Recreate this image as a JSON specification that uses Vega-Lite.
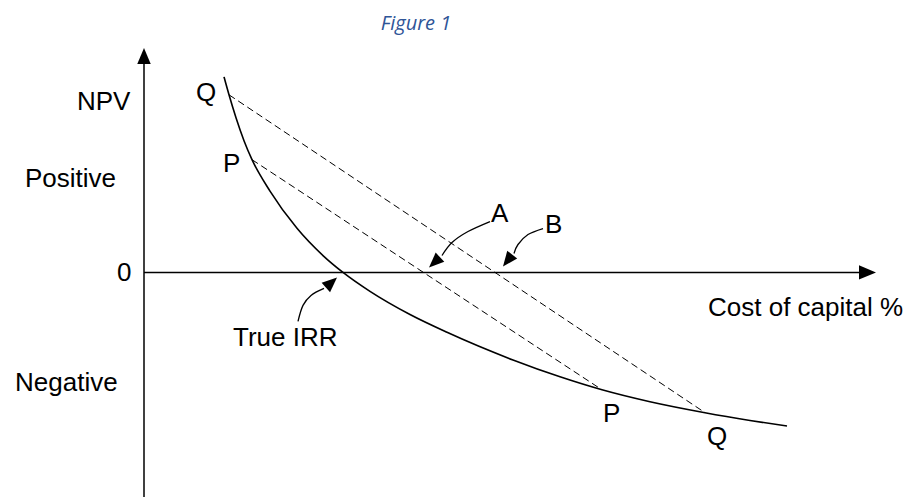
{
  "$schema": "https://vega.github.io/schema/vega-lite/v6.json",
  "width": 909,
  "height": 498,
  "autosize": {"type": "fit", "contains": "padding"},
  "padding": 0,
  "background": "white",
  "config": {"view": {"stroke": null}},
  "datasets": {
    "axes": [
      {"name": "npv_axis", "x": 0, "y": -225, "x2": 0, "y2": 212},
      {"name": "cost_axis", "x": 0, "y": 0, "x2": 717, "y2": 0}
    ],
    "dashed": [
      {"name": "Q", "x": 85, "y": 178, "x2": 561, "y2": -140.5},
      {"name": "P", "x": 108, "y": 113, "x2": 458, "y2": -117.6}
    ],
    "curve": [
      {"x": 80, "y": 196}, {"x": 85, "y": 178}, {"x": 92, "y": 155}, {"x": 100, "y": 132},
      {"x": 108, "y": 113}, {"x": 126, "y": 81.5}, {"x": 153, "y": 44.2}, {"x": 179, "y": 16.9},
      {"x": 199, "y": 0}, {"x": 226, "y": -19}, {"x": 266, "y": -42.2}, {"x": 303, "y": -60},
      {"x": 369, "y": -87.7}, {"x": 416, "y": -104.6}, {"x": 458, "y": -117.6}, {"x": 506, "y": -129.6},
      {"x": 561, "y": -140.6}, {"x": 606, "y": -148.3}, {"x": 643, "y": -153.9}
    ],
    "pointers": [
      {"id": "A", "x": 346, "y": 51}, {"id": "A", "x": 324, "y": 41}, {"id": "A", "x": 308, "y": 30}, {"id": "A", "x": 298, "y": 17},
      {"id": "B", "x": 399, "y": 44}, {"id": "B", "x": 384, "y": 38}, {"id": "B", "x": 374, "y": 28}, {"id": "B", "x": 370, "y": 19},
      {"id": "IRR", "x": 154, "y": -49}, {"id": "IRR", "x": 159, "y": -33}, {"id": "IRR", "x": 167, "y": -23}, {"id": "IRR", "x": 180, "y": -16}
    ],
    "heads": [
      {"id": "npv_axis", "x": 0, "y": 225, "angle": 0, "size": 1024},
      {"id": "cost_axis", "x": 732, "y": 0, "angle": 90, "size": 1156},
      {"id": "A", "x": 285, "y": 5, "angle": 227, "size": 900},
      {"id": "B", "x": 359, "y": 6, "angle": 218, "size": 900},
      {"id": "IRR", "x": 193, "y": -5, "angle": 48, "size": 900}
    ],
    "labels": [
      {"text": "NPV", "x": -67, "y": 163},
      {"text": "Positive", "x": -119, "y": 86},
      {"text": "0", "x": -27, "y": -9},
      {"text": "Negative", "x": -129, "y": -119},
      {"text": "Q", "x": 52, "y": 172},
      {"text": "P", "x": 79, "y": 101},
      {"text": "A", "x": 347, "y": 51},
      {"text": "B", "x": 401, "y": 40},
      {"text": "True IRR", "x": 89, "y": -74},
      {"text": "P", "x": 459, "y": -150},
      {"text": "Q", "x": 563, "y": -173},
      {"text": "Cost of capital %", "x": 564, "y": -44}
    ],
    "title": [
      {"text": "Figure 1", "x": 272, "y": 243}
    ]
  },
  "layer": [
    {
      "data": {"name": "axes"},
      "mark": {"type": "rule", "color": "black", "strokeWidth": 1.5},
      "encoding": {
        "x": {"field": "x", "type": "quantitative", "scale": {"domain": [-144, 765], "nice": false, "zero": false}, "axis": null},
        "y": {"field": "y", "type": "quantitative", "scale": {"domain": [-225, 273], "nice": false, "zero": false}, "axis": null},
        "x2": {"field": "x2"},
        "y2": {"field": "y2"}
      }
    },
    {
      "data": {"name": "dashed"},
      "mark": {"type": "rule", "color": "black", "strokeWidth": 1, "strokeDash": [7, 4]},
      "encoding": {
        "x": {"field": "x", "type": "quantitative", "scale": {"domain": [-144, 765], "nice": false, "zero": false}, "axis": null},
        "y": {"field": "y", "type": "quantitative", "scale": {"domain": [-225, 273], "nice": false, "zero": false}, "axis": null},
        "x2": {"field": "x2"},
        "y2": {"field": "y2"}
      }
    },
    {
      "data": {"name": "curve"},
      "mark": {"type": "line", "color": "black", "strokeWidth": 1.6, "interpolate": "monotone"},
      "encoding": {
        "x": {"field": "x", "type": "quantitative", "scale": {"domain": [-144, 765], "nice": false, "zero": false}, "axis": null},
        "y": {"field": "y", "type": "quantitative", "scale": {"domain": [-225, 273], "nice": false, "zero": false}, "axis": null}
      }
    },
    {
      "data": {"name": "pointers"},
      "mark": {"type": "line", "color": "black", "strokeWidth": 1.3, "interpolate": "cardinal"},
      "encoding": {
        "x": {"field": "x", "type": "quantitative", "scale": {"domain": [-144, 765], "nice": false, "zero": false}, "axis": null},
        "y": {"field": "y", "type": "quantitative", "scale": {"domain": [-225, 273], "nice": false, "zero": false}, "axis": null},
        "detail": {"field": "id", "type": "nominal"}
      }
    },
    {
      "data": {"name": "heads"},
      "mark": {"type": "point", "filled": true, "color": "black", "opacity": 1, "shape": "M0,0L-0.42,1L0.42,1Z"},
      "encoding": {
        "x": {"field": "x", "type": "quantitative", "scale": {"domain": [-144, 765], "nice": false, "zero": false}, "axis": null},
        "y": {"field": "y", "type": "quantitative", "scale": {"domain": [-225, 273], "nice": false, "zero": false}, "axis": null},
        "angle": {"field": "angle", "type": "quantitative", "scale": null},
        "size": {"field": "size", "type": "quantitative", "scale": null, "legend": null}
      }
    },
    {
      "data": {"name": "labels"},
      "mark": {"type": "text", "align": "left", "baseline": "alphabetic", "font": "Liberation Sans", "fontSize": 26, "color": "black"},
      "encoding": {
        "x": {"field": "x", "type": "quantitative", "scale": {"domain": [-144, 765], "nice": false, "zero": false}, "axis": null},
        "y": {"field": "y", "type": "quantitative", "scale": {"domain": [-225, 273], "nice": false, "zero": false}, "axis": null},
        "text": {"field": "text"}
      }
    },
    {
      "data": {"name": "title"},
      "mark": {"type": "text", "align": "center", "baseline": "alphabetic", "font": "Open Sans", "fontStyle": "italic", "fontSize": 20, "color": "#2F5597"},
      "encoding": {
        "x": {"field": "x", "type": "quantitative", "scale": {"domain": [-144, 765], "nice": false, "zero": false}, "axis": null},
        "y": {"field": "y", "type": "quantitative", "scale": {"domain": [-225, 273], "nice": false, "zero": false}, "axis": null},
        "text": {"field": "text"}
      }
    }
  ]
}
